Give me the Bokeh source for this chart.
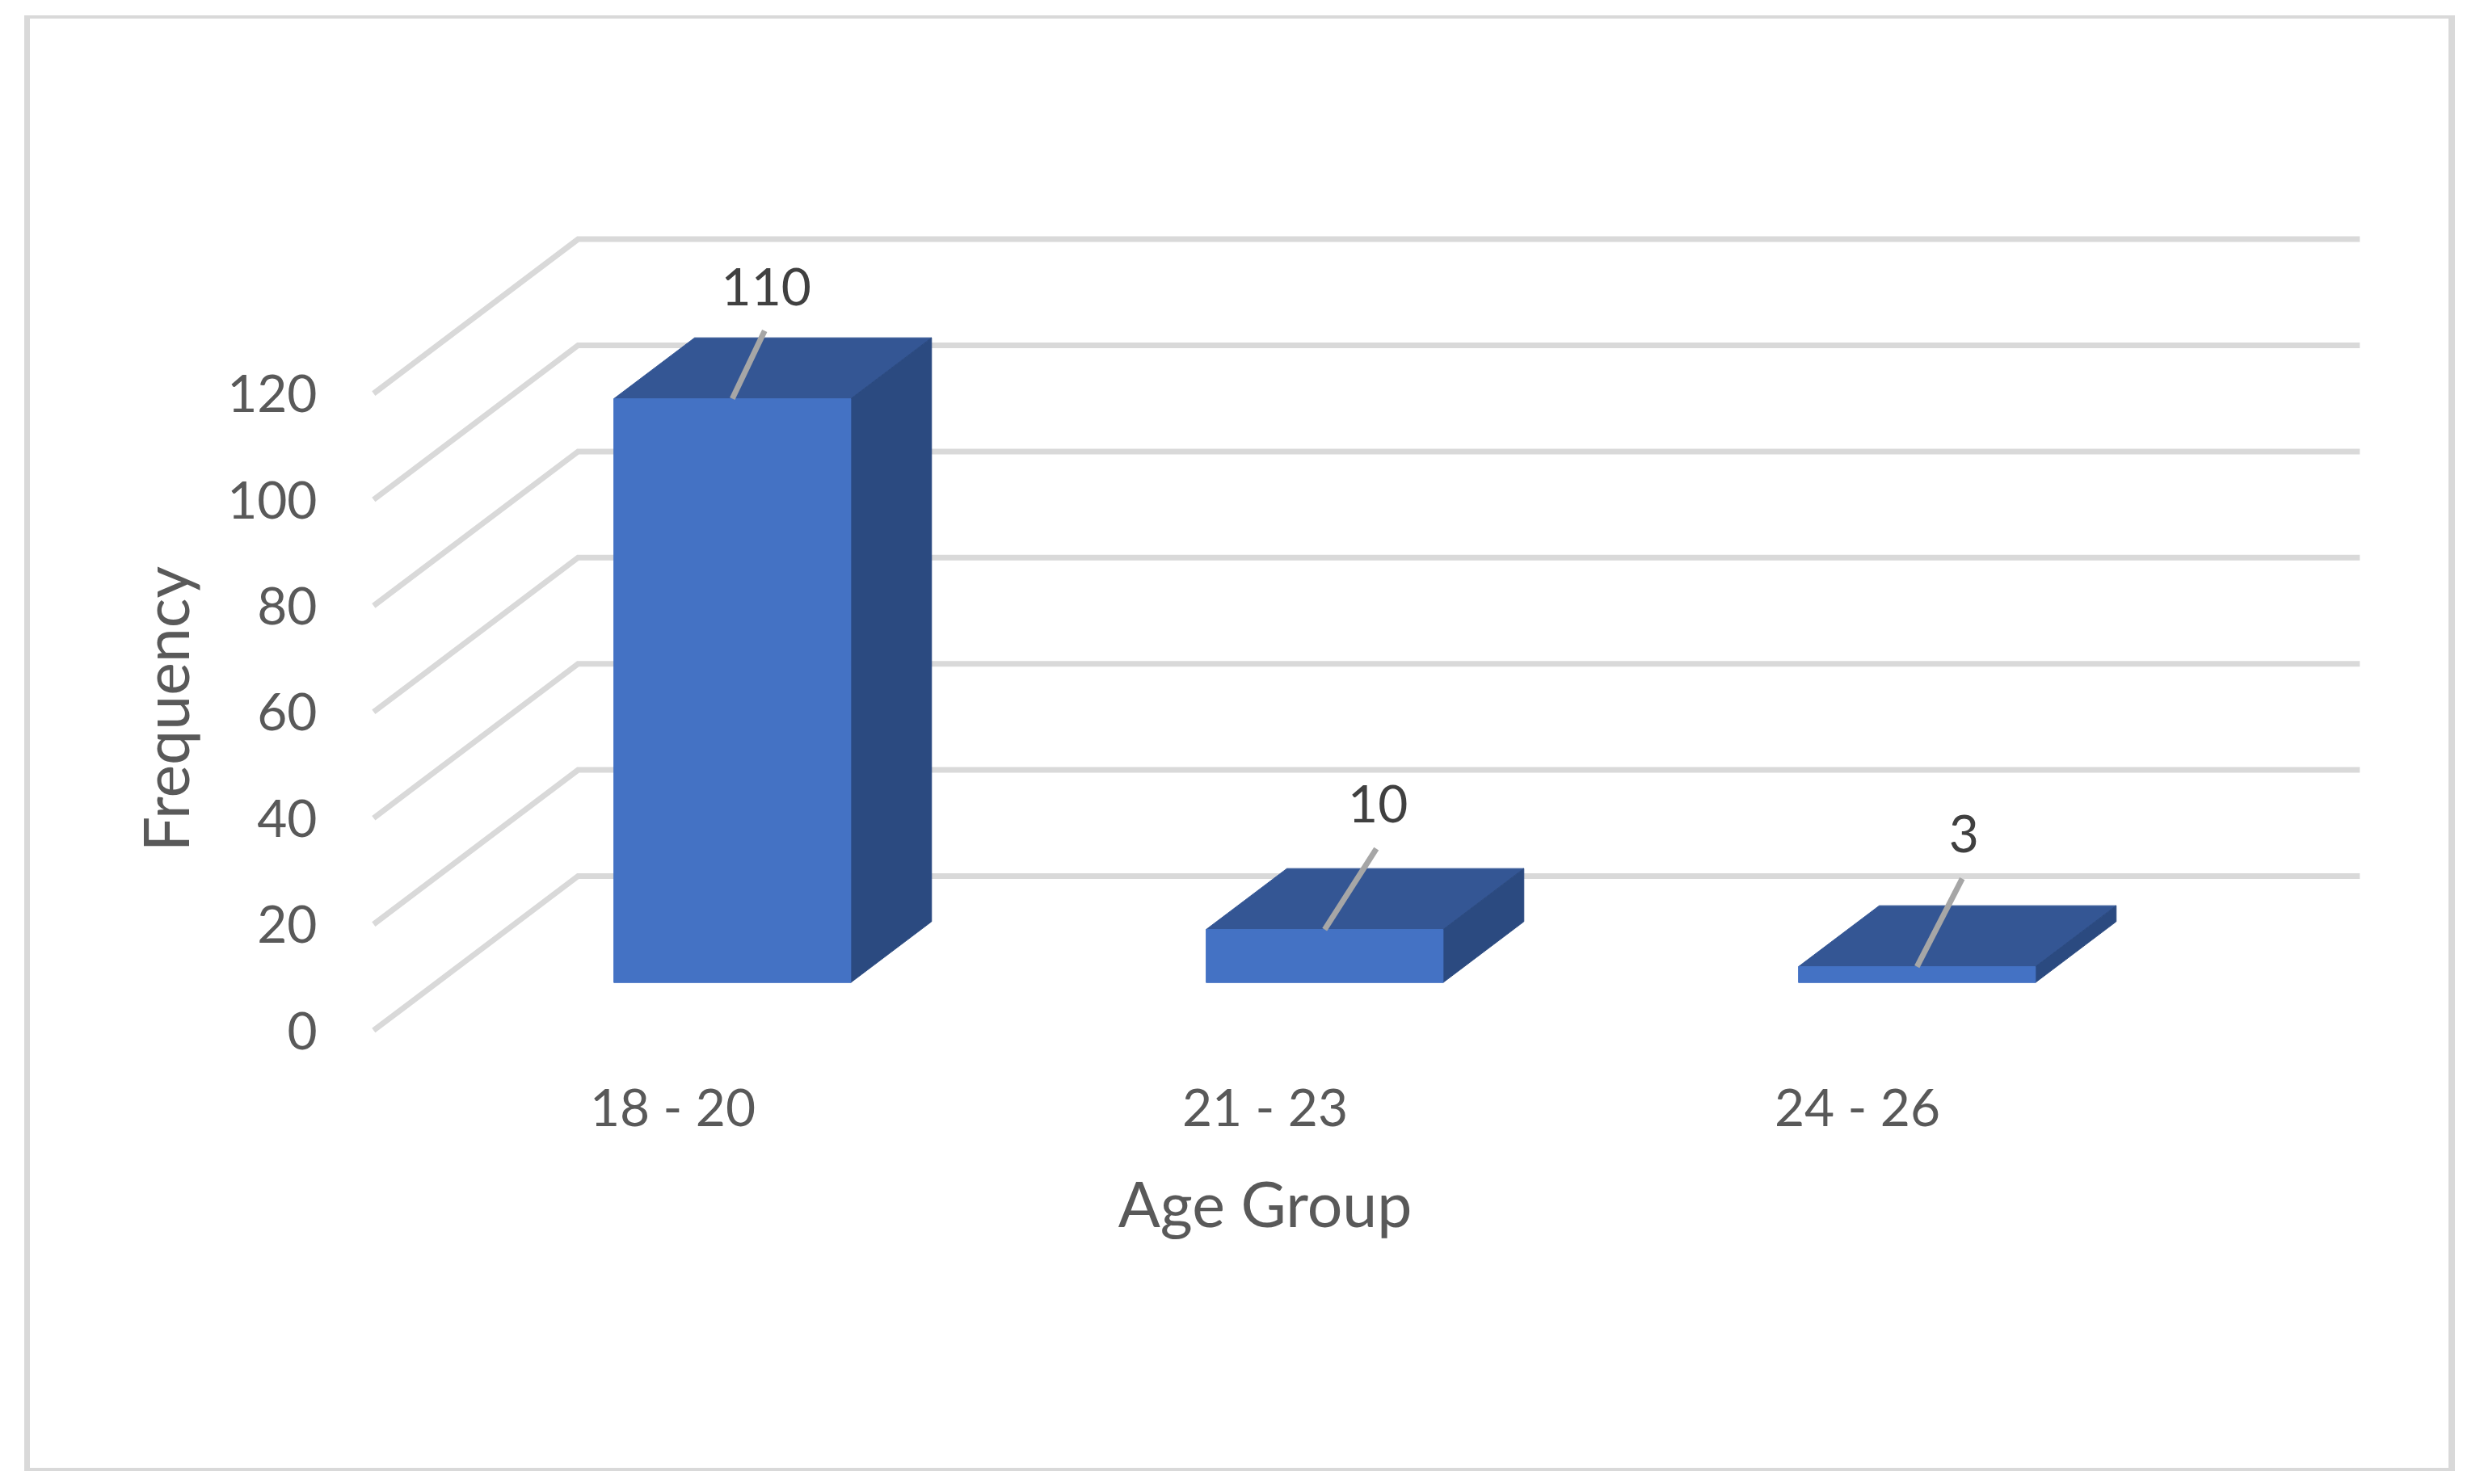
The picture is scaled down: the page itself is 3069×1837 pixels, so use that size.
from bokeh.plotting import figure
from bokeh.models import Range1d, FixedTicker, ColumnDataSource, InlineStyleSheet
from bokeh.core.properties import value
from bokeh.embed import file_html
from bokeh.resources import INLINE

# ---- data ----
age_groups = ["18 - 20", "21 - 23", "24 - 26"]
frequency = [110, 10, 3]
y_ticks = [0, 20, 40, 60, 80, 100, 120]
x_title = "Age Group"
y_title = "Frequency"

# ---- layout (px in the page) ----
PAGE_W, PAGE_H = 3069, 1837
F_L, F_R, F_T, F_B = 210, 2920, 280, 1474   # plot frame, window coordinates
CAT_PX = 733.0         # px per category
VAL_PX = 6.57          # px per frequency unit
Y0_PX = 1275.0         # window y of value 0 on the front plane
DEPTH_DX = 253 / CAT_PX    # full floor depth, in category units
DEPTH_DY = 191 / VAL_PX    # full floor depth, in value units
BAR_OFF, BAR_W = -0.2064, 0.4
D0, D1 = 0.31, 0.705
GRID_FRONT_X, GRID_RIGHT_X = -0.505, 2.8486

# leader line end and label centre relative to the front-top centre of a bar (px)
leader_dx = [40, 64, 56]
leader_dy = [84, 100, 109]
label_dx = [42, 66, 58]
label_dy = [139, 156, 165]

FONT = "Lato"
half = (F_R - F_L) / CAT_PX / 2
p = figure(
    width=PAGE_W, height=PAGE_H,
    frame_width=F_R - F_L, frame_height=F_B - F_T,
    min_border_left=F_L, min_border_top=F_T,
    min_border_right=PAGE_W - F_R, min_border_bottom=PAGE_H - F_B,
    x_range=Range1d(1 - half, 1 + half),
    y_range=Range1d((Y0_PX - F_B) / VAL_PX, (Y0_PX - F_T) / VAL_PX),
    output_backend="svg", toolbar_location=None,
    background_fill_color="white", border_fill_color="white",
)
p.outline_line_color = None
p.grid.visible = False


def proj(x, v, d):
    return x + d * DEPTH_DX, v + d * DEPTH_DY


# gridlines: front-left diagonal + back wall line
gx, gy = [], []
for t in y_ticks:
    x0, y0 = proj(GRID_FRONT_X, t, 0)
    x1, y1 = proj(GRID_FRONT_X, t, 1)
    gx.append([x0, x1, GRID_RIGHT_X])
    gy.append([y0, y1, y1])
p.multi_line(gx, gy, line_color="#d9d9d9", line_width=7, line_join="miter")

# bars
for i, v in enumerate(frequency):
    xl = i + BAR_OFF
    xr = xl + BAR_W
    a = proj(xl, 0, D0)
    b = proj(xr, 0, D0)
    c = proj(xr, v, D0)
    d = proj(xl, v, D0)
    bt = proj(xr, v, D1)
    tl = proj(xl, v, D1)
    bb = proj(xr, 0, D1)
    p.patch([d[0], c[0], bt[0], tl[0]], [d[1], c[1], bt[1], tl[1]],
            fill_color="#345694", line_color="#345694", line_width=1)
    p.patch([b[0], bb[0], bt[0], c[0]], [b[1], bb[1], bt[1], c[1]],
            fill_color="#2b4a80", line_color="#2b4a80", line_width=1)
    p.patch([a[0], b[0], c[0], d[0]], [a[1], b[1], c[1], d[1]],
            fill_color="#4472c4", line_color="#4472c4", line_width=1)

# leader lines + data labels
cx = [i + BAR_OFF + BAR_W / 2 + D0 * DEPTH_DX for i in range(3)]
cy = [v + D0 * DEPTH_DY for v in frequency]
p.segment(cx, cy,
          [x + dx / CAT_PX for x, dx in zip(cx, leader_dx)],
          [y + dy / VAL_PX for y, dy in zip(cy, leader_dy)],
          line_color="#a6a6a6", line_width=7)
src = ColumnDataSource(dict(
    x=[x + dx / CAT_PX for x, dx in zip(cx, label_dx)],
    y=[y + dy / VAL_PX for y, dy in zip(cy, label_dy)],
    t=[str(v) for v in frequency]))
p.text("x", "y", text="t", source=src, text_font=value(FONT), text_font_size=value("64px"),
       text_color="#404040", text_align="center", text_baseline="middle")

# axes
ya = p.yaxis[0]
ya.ticker = FixedTicker(ticks=y_ticks)
ya.axis_line_color = None
ya.major_tick_line_color = None
ya.minor_tick_line_color = None
ya.major_tick_in = ya.major_tick_out = 0
ya.major_label_standoff = -182
ya.major_label_text_font = FONT
ya.major_label_text_font_size = "64px"
ya.major_label_text_color = "#595959"
ya.axis_label = y_title
ya.axis_label_text_font = FONT
ya.axis_label_text_font_style = "normal"
ya.axis_label_text_font_size = "77px"
ya.axis_label_text_color = "#595959"
ya.axis_label_standoff = 28

xa = p.xaxis[0]
xa.ticker = FixedTicker(ticks=[0, 1, 2])
xa.major_label_overrides = {i: s for i, s in enumerate(age_groups)}
xa.axis_line_color = None
xa.major_tick_line_color = None
xa.minor_tick_line_color = None
xa.major_tick_in = xa.major_tick_out = 0
xa.major_label_standoff = -144
xa.major_label_text_font = FONT
xa.major_label_text_font_size = "64px"
xa.major_label_text_color = "#595959"
xa.axis_label = x_title
xa.axis_label_text_font = FONT
xa.axis_label_text_font_style = "normal"
xa.axis_label_text_font_size = "77px"
xa.axis_label_text_color = "#595959"
xa.axis_label_standoff = 32

# outer chart border, drawn over the canvas by the page's stylesheet
p.stylesheets = [InlineStyleSheet(css="""
:host::after {
  content: ""; position: absolute; box-sizing: border-box; pointer-events: none; z-index: 50;
  left: 30px; top: 19px; width: 3008px; height: 1802px;
  border-style: solid; border-color: #d9d9d9; border-width: 4px 8px 4px 7px;
}
""")]

open("out.html", "w").write(file_html(p, INLINE))
